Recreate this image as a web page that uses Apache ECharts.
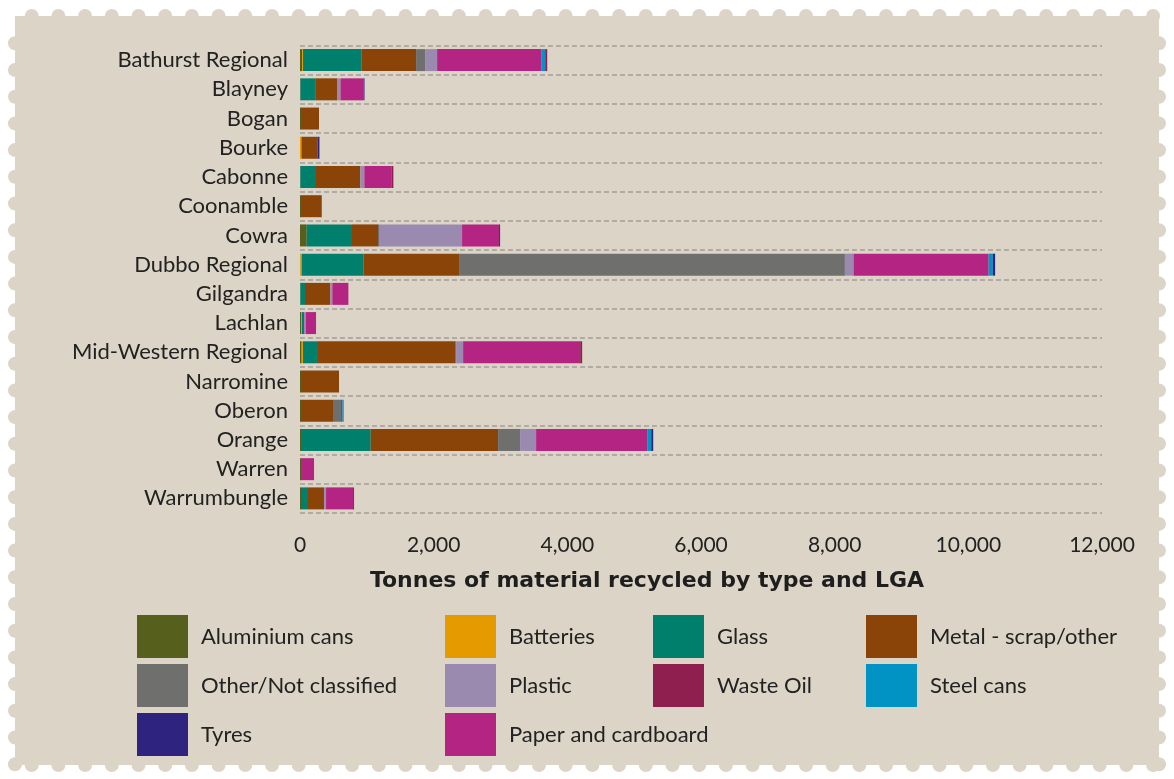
<!DOCTYPE html>
<html>
<head>
<meta charset="utf-8">
<script src="https://cdn.jsdelivr.net/npm/echarts@6/dist/echarts.min.js"></script>
<style>
html, body { margin: 0; background: #fff; }
#main { width: 1174px; height: 779px; }
</style>
</head>
<body>
<div id="main"></div>
<script>
// LGAs, top to bottom
var lgas = ['Bathurst Regional', 'Blayney', 'Bogan', 'Bourke', 'Cabonne', 'Coonamble', 'Cowra',
    'Dubbo Regional', 'Gilgandra', 'Lachlan', 'Mid-Western Regional', 'Narromine', 'Oberon',
    'Orange', 'Warren', 'Warrumbungle'];

// tonnes by material
var aluminium = [30, 7, 15, 0, 5, 15, 100, 5, 5, 15, 25, 15, 15, 30, 15, 30];
var batteries = [15, 0, 0, 22, 0, 0, 0, 20, 0, 15, 20, 0, 0, 0, 0, 0];
var glass = [879, 220, 0, 0, 220, 0, 678, 928, 70, 30, 210, 0, 0, 1028, 0, 90];
var metal = [813, 334, 269, 244, 678, 299, 389, 1437, 379, 0, 2066, 569, 479, 1906, 0, 240];
var other = [135, 0, 0, 0, 0, 15, 15, 5763, 0, 0, 15, 0, 120, 329, 0, 0];
var plastic = [180, 45, 0, 0, 60, 0, 1243, 130, 30, 30, 105, 0, 0, 240, 0, 30];
var paper = [1557, 344, 0, 0, 404, 0, 554, 2021, 240, 150, 1751, 0, 20, 1662, 195, 404];
var steel = [60, 0, 0, 0, 0, 0, 0, 63, 0, 0, 0, 0, 20, 60, 0, 0];
var wasteOil = [30, 0, 0, 0, 30, 0, 0, 0, 0, 0, 30, 0, 0, 0, 0, 15];
var tyres = [0, 15, 0, 25, 0, 0, 15, 34, 0, 0, 0, 0, 0, 30, 0, 0];

var xTicks = [0, 2000, 4000, 6000, 8000, 10000, 12000];

var beige = '#dcd5c7';

// stamp edge
var graphics = [{
    type: 'rect',
    z: -100,
    silent: true,
    shape: { x: 15, y: 16, width: 1144, height: 749 },
    style: { fill: beige }
}];
for (var x = 31.7; x < 1160; x += 26.7) {
    graphics.push({ type: 'circle', z: -100, silent: true, shape: { cx: x, cy: 16, r: 7 }, style: { fill: beige } });
    graphics.push({ type: 'circle', z: -100, silent: true, shape: { cx: x, cy: 765, r: 7 }, style: { fill: beige } });
}
for (var y = 43.3; y < 765; y += 26.7) {
    graphics.push({ type: 'circle', z: -100, silent: true, shape: { cx: 15, cy: y, r: 7 }, style: { fill: beige } });
    graphics.push({ type: 'circle', z: -100, silent: true, shape: { cx: 1159, cy: y, r: 7 }, style: { fill: beige } });
}
graphics.push({
    type: 'text',
    x: 647,
    y: 581,
    style: {
        text: 'Tonnes of material recycled by type and LGA',
        fill: '#1e1e1e',
        font: 'bold 22px "DejaVu Sans", sans-serif',
        textAlign: 'center',
        textVerticalAlign: 'middle'
    }
});

var bar = function (name, data, color) {
    return {
        name: name,
        type: 'bar',
        stack: 'total',
        barWidth: 22,
        data: data,
        itemStyle: { color: color },
        emphasis: { disabled: true }
    };
};

var legendBase = function (left, names) {
    return {
        orient: 'vertical',
        left: left,
        top: 615,
        padding: 0,
        icon: 'rect',
        itemWidth: 51,
        itemHeight: 43,
        itemGap: 6,
        selectedMode: false,
        data: names,
        textStyle: {
            fontFamily: 'Lato',
            fontSize: 22,
            color: '#222',
            padding: [9, 0, 0, 8]
        }
    };
};

var myChart = echarts.init(document.getElementById('main'));
var option = {
    backgroundColor: '#fff',
    animation: false,
    graphic: graphics,
    legend: [
        legendBase(137, ['Aluminium cans', 'Other/Not classified', 'Tyres']),
        legendBase(445, ['Batteries', 'Plastic', 'Paper and cardboard']),
        legendBase(653, ['Glass', 'Waste Oil']),
        legendBase(866, ['Metal - scrap/other', 'Steel cans'])
    ],
    grid: {
        left: 300,
        right: 72,
        top: 45.5,
        bottom: 266
    },
    xAxis: {
        type: 'value',
        min: xTicks[0],
        max: xTicks[xTicks.length - 1],
        interval: xTicks[1] - xTicks[0],
        axisLine: { show: false },
        axisTick: { show: false },
        splitLine: { show: false },
        axisLabel: {
            margin: 22,
            fontFamily: 'Lato',
            fontSize: 21,
            color: '#222',
            formatter: function (v) { return v.toLocaleString('en-US'); }
        }
    },
    yAxis: {
        type: 'category',
        inverse: true,
        data: lgas,
        axisLine: { show: false },
        axisTick: { show: false },
        splitLine: {
            show: true,
            lineStyle: { color: '#a29e98', width: 1.5, type: [5, 3] }
        },
        axisLabel: {
            margin: 12,
            fontFamily: 'Lato',
            fontSize: 22,
            color: '#222',
            padding: [0, 0, 5, 0]
        }
    },
    series: [
        bar('Aluminium cans', aluminium, '#56601c'),
        bar('Batteries', batteries, '#e59b00'),
        bar('Glass', glass, '#00806c'),
        bar('Metal - scrap/other', metal, '#8b4408'),
        bar('Other/Not classified', other, '#6f6f6d'),
        bar('Plastic', plastic, '#9a8ab0'),
        bar('Paper and cardboard', paper, '#b32483'),
        bar('Steel cans', steel, '#0093c4'),
        bar('Waste Oil', wasteOil, '#8e1f4e'),
        bar('Tyres', tyres, '#2e2480')
    ]
};
myChart.setOption(option);
</script>
</body>
</html>
